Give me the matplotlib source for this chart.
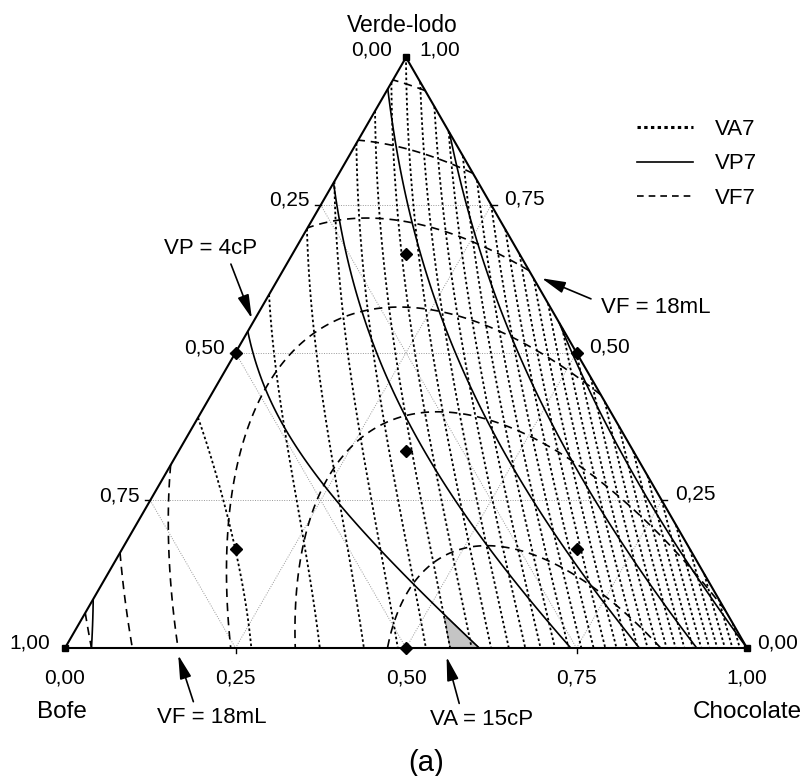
import numpy as np
import matplotlib.pyplot as plt
import matplotlib.tri as mtri
from matplotlib.lines import Line2D

plt.rcParams['font.family'] = ['Liberation Sans', 'DejaVu Sans']

# Modelos de Scheffe (B = Bofe, C = Chocolate, V = Verde-lodo)
# termos: B, C, V, BC, BV, CV, BC(B-C), BV(B-V), CV(C-V), BCV
va_coef = [9.2, 41.0, 17.0, -47.3, -10.75, 0.0, 16.7, 6.02, 0.0, -33.0]
vp_coef = [4.25, 8.0, 6.4, -10.6, -5.64, 3.56, 0.0, 0.0, 0.0, 0.0]
vf_coef = [15.3, 20.08, 15.56, 13.8, 12.25, 3.5, 0.0, 0.0, 0.0, 0.0]

va_levels = [10, 11, 12, 13, 14, 15, 16, 17, 18, 19, 20, 21, 22, 23, 24, 25,
             26, 27, 28, 29, 30, 31, 32, 33, 34, 35, 36, 37, 38, 39, 40]
vp_levels = [4, 5, 6, 7, 8]
vf_levels = [16, 17, 18, 19, 20, 21]

# Pontos do planejamento (fracoes)
pts_bofe = [1.0, 0.0, 0.0, 0.5, 0.5, 0.0, 0.333, 0.667, 0.167, 0.167]
pts_choc = [0.0, 1.0, 0.0, 0.5, 0.0, 0.5, 0.333, 0.167, 0.667, 0.167]
pts_verde = [0.0, 0.0, 1.0, 0.0, 0.5, 0.5, 0.333, 0.167, 0.167, 0.667]

tick_vals = [0.25, 0.5, 0.75]
tick_txt = ['0,25', '0,50', '0,75']

h = np.sqrt(3) / 2


def xy(c, v):
    c = np.asarray(c, float)
    v = np.asarray(v, float)
    return c + v / 2, v * h


def modelo(k, b, c, v):
    return (k[0]*b + k[1]*c + k[2]*v + k[3]*b*c + k[4]*b*v + k[5]*c*v
            + k[6]*b*c*(b - c) + k[7]*b*v*(b - v) + k[8]*c*v*(c - v)
            + k[9]*b*c*v)


# malha triangular
n = 160
cc, vv = [], []
for i in range(n + 1):
    for j in range(n + 1 - i):
        cc.append(i / n)
        vv.append(j / n)
cc = np.array(cc)
vv = np.array(vv)
bb = 1 - cc - vv
X, Y = xy(cc, vv)
tri = mtri.Triangulation(X, Y)

VA = modelo(va_coef, bb, cc, vv)
VP = modelo(vp_coef, bb, cc, vv)
VF = modelo(vf_coef, bb, cc, vv)

fig = plt.figure(figsize=(8.08, 7.76), dpi=100)
ax = fig.add_axes([0, 0, 1, 1])
ax.set_xlim(-65 / 682, 743 / 682)
ax.set_ylim(-128 / 682, 648 / 682)
ax.axis('off')

# grade
for t in tick_vals:
    ax.plot(*xy([0, 1 - t], [t, t]), color='#999999', lw=0.7, ls=(0, (1, 1.5)))
    ax.plot(*xy([t, t], [0, 1 - t]), color='#999999', lw=0.7, ls=(0, (1, 1.5)))
    ax.plot(*xy([0, 1 - t], [1 - t, 0]), color='#999999', lw=0.7, ls=(0, (1, 1.5)))

# regiao viavel
ok = np.minimum(VA - 15, 4 - VP)
ax.tricontourf(tri, ok, levels=[0, 100], colors=['#c4c4c4'])
ax.tricontour(tri, ok, levels=[0], colors=['#888888'], linewidths=0.8)

ax.tricontour(tri, VA, levels=va_levels, colors='k', linewidths=1.3,
              linestyles=[(0, (1.4, 1.4))])
ax.tricontour(tri, VP, levels=vp_levels, colors='k', linewidths=1.2,
              linestyles='solid')
ax.tricontour(tri, VF, levels=vf_levels, colors='k', linewidths=1.2,
              linestyles=[(0, (5, 3.5))])

# triangulo
ax.plot(*xy([0, 1, 0, 0], [0, 0, 1, 0]), color='k', lw=1.5)

# pontos
px, py = xy(pts_choc, pts_verde)
ax.plot(px[3:], py[3:], 'kD', ms=6.5)
ax.plot(px[:3], py[:3], 'ks', ms=5)

fs = 15
# ticks e rotulos
for t, s in zip(tick_vals, tick_txt):
    # base: chocolate
    x0, y0 = xy(t, 0)
    ax.plot([x0, x0], [y0, y0 - 0.007], color='k', lw=1)
    ax.text(x0, y0 - 0.044, s, ha='center', va='center', fontsize=fs)
    # esquerda: bofe
    x0, y0 = xy(0, 1 - t)
    ax.plot([x0, x0 - 0.008], [y0, y0], color='k', lw=1)
    ax.text(x0 - 0.016, y0 + 0.007, s, ha='right', va='center', fontsize=fs)
    # direita: verde-lodo
    x0, y0 = xy(1 - t, t)
    ax.plot([x0, x0 + 0.008], [y0, y0], color='k', lw=1)
    ax.text(x0 + 0.019, y0 + 0.009, s, ha='left', va='center', fontsize=fs)

ax.text(0, -0.044, '0,00', ha='center', va='center', fontsize=fs)
ax.text(1, -0.044, '1,00', ha='center', va='center', fontsize=fs)
ax.text(-0.022, 0.007, '1,00', ha='right', va='center', fontsize=fs)
ax.text(1.015, 0.007, '0,00', ha='left', va='center', fontsize=fs)
ax.text(0.5 - 0.02, h + 0.011, '0,00', ha='right', va='center', fontsize=fs)
ax.text(0.5 + 0.02, h + 0.011, '1,00', ha='left', va='center', fontsize=fs)

ax.text(0.495, h + 0.047, 'Verde-lodo', ha='center', va='center', fontsize=16.5)
ax.text(-0.004, -0.094, 'Bofe', ha='center', va='center', fontsize=17.5)
ax.text(1.0, -0.094, 'Chocolate', ha='center', va='center', fontsize=17.5)
ax.text(0.530, -0.169, '(a)', ha='center', va='center', fontsize=21)

# anotacoes
fa = 16
arr = dict(arrowstyle='-|>,head_length=0.9,head_width=0.22', color='k',
           lw=1.2, shrinkA=2, shrinkB=0, mutation_scale=16)
ax.annotate('VP = 4cP', xy=xy(-0.005, 0.558), xytext=(-30, 43),
            textcoords='offset points', ha='center', va='bottom', fontsize=fa,
            arrowprops=dict(arr, relpos=(0.7, 0)))
ax.annotate('VF = 18mL', xy=xy(0.386, 0.626), xytext=(43, -21),
            textcoords='offset points', ha='left', va='center', fontsize=fa,
            arrowprops=dict(arr, relpos=(0, 0.7), shrinkA=6))
ax.annotate('VF = 18mL', xy=xy(0.172, -0.012), xytext=(24, -45),
            textcoords='offset points', ha='center', va='center', fontsize=fa,
            arrowprops=dict(arr, relpos=(0.35, 1)))
ax.annotate('VA = 15cP', xy=xy(0.567, -0.015), xytext=(25, -45),
            textcoords='offset points', ha='center', va='center', fontsize=fa,
            arrowprops=dict(arr, relpos=(0.3, 1)))

# legenda
handles = [Line2D([], [], color='k', lw=2.2, ls=(0, (1.1, 1.1))),
           Line2D([], [], color='k', lw=1.2, ls='solid'),
           Line2D([], [], color='k', lw=1.2, ls=(0, (4, 3)))]
fig.legend(handles, ['VA7', 'VP7', 'VF7'], loc='upper left',
           bbox_to_anchor=(0.764, 0.873), frameon=False, fontsize=fa,
           handlelength=2.5, handletextpad=1.0, labelspacing=0.62)

fig.savefig('out.png', dpi=100)
